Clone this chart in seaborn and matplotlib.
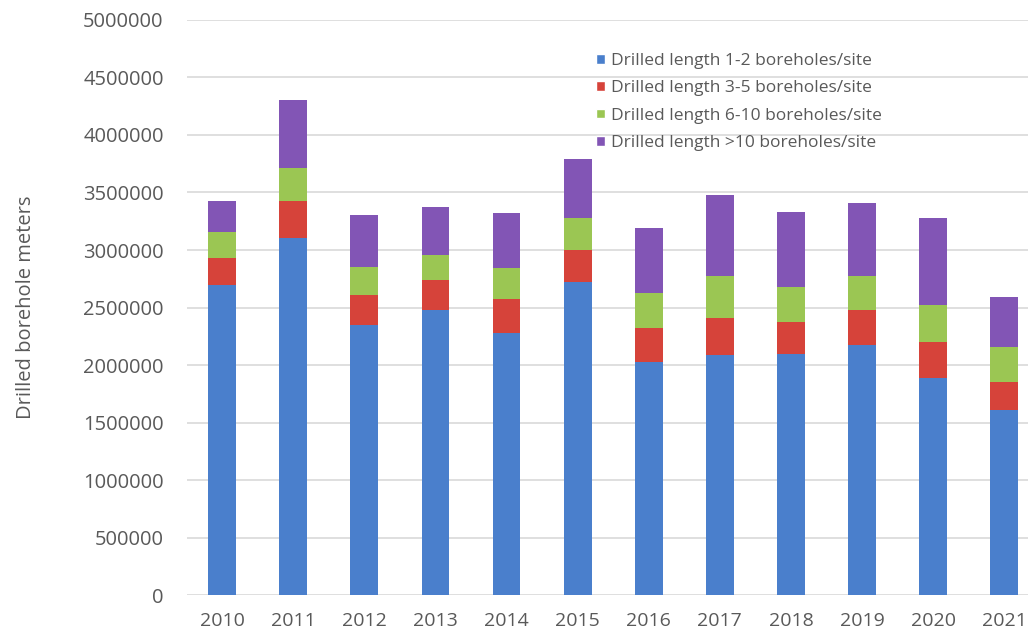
import pandas as pd
import numpy as np
import matplotlib.pyplot as plt
import seaborn as sns
from matplotlib.patches import Patch

# Data (meters)
years = ['2010', '2011', '2012', '2013', '2014', '2015',
         '2016', '2017', '2018', '2019', '2020', '2021']
len_1_2 = [2700000, 3100000, 2350000, 2480000, 2280000, 2720000,
           2030000, 2090000, 2100000, 2170000, 1890000, 1610000]
len_3_5 = [230000, 330000, 260000, 260000, 290000, 280000,
           290000, 320000, 270000, 310000, 310000, 240000]
len_6_10 = [230000, 280000, 240000, 220000, 270000, 280000,
            310000, 360000, 310000, 290000, 320000, 310000]
len_over_10 = [270000, 590000, 450000, 410000, 480000, 510000,
               560000, 710000, 650000, 640000, 760000, 430000]

series_names = ['Drilled length 1-2 boreholes/site',
                'Drilled length 3-5 boreholes/site',
                'Drilled length 6-10 boreholes/site',
                'Drilled length >10 boreholes/site']
colors = ['#4a7fcc', '#d6433a', '#9bc653', '#8255b5']

# cumulative totals so the stacks can be drawn top-down with seaborn
stack = np.cumsum(np.array([len_1_2, len_3_5, len_6_10, len_over_10]), axis=0)

sns.set_style("white")
plt.rcParams['font.family'] = ['Open Sans', 'DejaVu Sans']
text_color = '#595959'

fig = plt.figure(figsize=(10.28, 6.44), dpi=100)
ax = fig.add_axes([0.1815, 0.076, 0.830, 0.893])

for i in range(3, -1, -1):
    df = pd.DataFrame({'Year': years, 'Meters': stack[i]})
    sns.barplot(data=df, x='Year', y='Meters', color=colors[i], width=0.39,
                saturation=1, linewidth=0, ax=ax, zorder=3)

ax.set_ylim(0, 5000000)
ax.set_xlim(-0.5, 11.5)
ax.set_yticks(np.arange(0, 5000001, 500000))
ax.set_yticklabels([f'{int(v)}' for v in np.arange(0, 5000001, 500000)])
ax.yaxis.grid(True, color='#d9d9d9', linewidth=1.2, zorder=0)
ax.set_axisbelow(True)
for s in ax.spines.values():
    s.set_visible(False)
ax.tick_params(axis='y', length=0, labelsize=14.5, colors=text_color, pad=16.5)
ax.tick_params(axis='x', length=0, labelsize=14, colors=text_color, pad=12)
ax.set_xlabel('')
ax.set_ylabel('Drilled borehole meters', fontsize=14.5, color=text_color)
ax.yaxis.set_label_coords(-0.177, 0.5)

handles = [Patch(facecolor=c, label=n) for c, n in zip(colors, series_names)]
leg = ax.legend(handles=handles, loc='upper left', bbox_to_anchor=(0.472, 0.955),
                frameon=False, fontsize=12.5, handlelength=0.5, handleheight=0.5,
                handletextpad=0.35, labelspacing=0.66, borderaxespad=0)
for t in leg.get_texts():
    t.set_color(text_color)

plt.savefig('out.png', dpi=100)
